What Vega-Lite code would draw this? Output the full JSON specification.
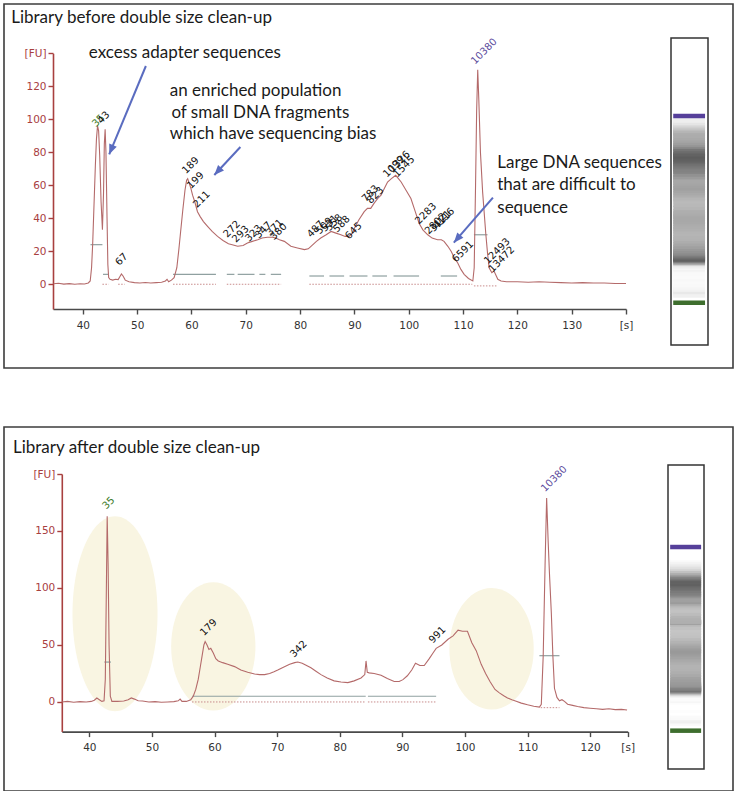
{
"$schema": "https://vega.github.io/schema/vega-lite/v6.json",
"background": "white",
"padding": {"left": 3, "top": 3, "right": 0, "bottom": 0},
"spacing": 57,
"config": {"view": {"stroke": "#3c3c3c", "strokeWidth": 1.6}, "font": "DejaVu Sans"},
"datasets": {
"topTrace": [
{"t":34.6,"fu":0.3},{"t":35.5,"fu":0.6},{"t":36.5,"fu":0.1},{"t":37.5,"fu":0.4},{"t":38.5,"fu":0},{"t":39.5,"fu":0.3},{"t":40.3,"fu":0.2},{"t":41,"fu":0.8},{"t":41.35,"fu":2},{"t":41.6,"fu":10},{"t":41.8,"fu":24},{"t":42.05,"fu":48},{"t":42.3,"fu":72},{"t":42.5,"fu":88},{"t":42.7,"fu":96},{"t":42.9,"fu":93},{"t":43.1,"fu":78},{"t":43.35,"fu":50},{"t":43.6,"fu":33},{"t":43.8,"fu":55},{"t":43.95,"fu":85},{"t":44.1,"fu":94},{"t":44.25,"fu":80},{"t":44.45,"fu":40},{"t":44.6,"fu":12},{"t":44.75,"fu":4},{"t":45,"fu":3},{"t":45.5,"fu":2.5},{"t":46,"fu":3},{"t":46.5,"fu":2.8},{"t":46.8,"fu":4.5},{"t":47.1,"fu":6.2},{"t":47.4,"fu":5},{"t":47.8,"fu":2.5},{"t":48.5,"fu":1.5},{"t":49.5,"fu":1},{"t":50.5,"fu":0.8},{"t":51.5,"fu":1.1},{"t":52.5,"fu":0.8},{"t":53.5,"fu":1},{"t":54.5,"fu":1.2},{"t":55.2,"fu":2},{"t":55.5,"fu":3},{"t":55.8,"fu":1.5},{"t":56.3,"fu":2.5},{"t":56.8,"fu":4},{"t":57.3,"fu":10},{"t":57.7,"fu":22},{"t":58,"fu":32},{"t":58.4,"fu":45},{"t":58.8,"fu":57},{"t":59.1,"fu":63},{"t":59.3,"fu":64},{"t":59.6,"fu":61},{"t":59.9,"fu":58},{"t":60.2,"fu":54},{"t":60.6,"fu":50},{"t":61.1,"fu":44},{"t":61.6,"fu":41},{"t":62.2,"fu":38},{"t":63,"fu":35},{"t":63.8,"fu":32},{"t":64.8,"fu":29},{"t":65.8,"fu":26.5},{"t":66.8,"fu":24.5},{"t":67.5,"fu":24},{"t":68.5,"fu":23},{"t":69.5,"fu":23.5},{"t":70.3,"fu":25},{"t":71.2,"fu":26},{"t":72.2,"fu":27},{"t":73,"fu":28},{"t":74,"fu":28.5},{"t":74.9,"fu":28.5},{"t":75.5,"fu":28},{"t":76.2,"fu":27},{"t":77.1,"fu":26},{"t":78.3,"fu":23},{"t":79.5,"fu":22},{"t":80.8,"fu":21},{"t":81.5,"fu":21.5},{"t":82,"fu":23},{"t":83,"fu":26},{"t":83.8,"fu":28},{"t":84.8,"fu":30},{"t":85.7,"fu":32},{"t":86.6,"fu":31},{"t":87.5,"fu":30},{"t":88.3,"fu":29},{"t":89,"fu":29},{"t":89.6,"fu":31},{"t":90,"fu":34},{"t":90.8,"fu":39},{"t":91.8,"fu":44},{"t":92.4,"fu":46},{"t":93,"fu":46},{"t":93.6,"fu":49},{"t":94.3,"fu":52},{"t":94.9,"fu":54},{"t":95.5,"fu":58},{"t":96.1,"fu":62},{"t":96.8,"fu":64},{"t":97.6,"fu":66},{"t":98.1,"fu":64},{"t":98.6,"fu":62},{"t":99.5,"fu":57},{"t":100.4,"fu":52},{"t":101.2,"fu":44},{"t":101.9,"fu":37},{"t":102.6,"fu":33},{"t":103.5,"fu":30},{"t":104.3,"fu":28},{"t":105.3,"fu":27},{"t":106,"fu":27},{"t":106.5,"fu":26},{"t":107.2,"fu":23},{"t":107.8,"fu":20},{"t":108.4,"fu":16},{"t":109,"fu":13},{"t":109.6,"fu":9},{"t":110.2,"fu":6},{"t":111,"fu":3.5},{"t":111.8,"fu":2},{"t":112.05,"fu":10},{"t":112.3,"fu":60},{"t":112.5,"fu":105},{"t":112.7,"fu":130},{"t":112.9,"fu":112},{"t":113.2,"fu":80},{"t":113.6,"fu":56},{"t":114.2,"fu":30},{"t":114.5,"fu":19},{"t":114.8,"fu":10},{"t":115.3,"fu":7},{"t":115.7,"fu":8},{"t":116.4,"fu":3},{"t":117,"fu":2},{"t":118,"fu":1.5},{"t":120,"fu":1.5},{"t":122,"fu":1.2},{"t":124,"fu":1.5},{"t":126,"fu":1.2},{"t":128,"fu":1},{"t":130,"fu":0.8},{"t":132,"fu":1},{"t":134,"fu":0.8},{"t":136,"fu":0.8},{"t":138,"fu":0.5},{"t":140,"fu":0.5}
],
"bottomTrace": [
{"t":35.6,"fu":0},{"t":36.5,"fu":0.5},{"t":37.5,"fu":-0.3},{"t":38.5,"fu":0.3},{"t":39.5,"fu":0},{"t":40.3,"fu":0.5},{"t":40.8,"fu":1.5},{"t":41.2,"fu":3.5},{"t":41.6,"fu":2},{"t":42,"fu":0.5},{"t":42.35,"fu":1},{"t":42.55,"fu":20},{"t":42.7,"fu":90},{"t":42.85,"fu":163},{"t":43,"fu":120},{"t":43.15,"fu":50},{"t":43.35,"fu":5},{"t":43.6,"fu":0.5},{"t":44.5,"fu":0.5},{"t":45.5,"fu":0.8},{"t":46.2,"fu":2},{"t":46.7,"fu":3.5},{"t":47.2,"fu":2.5},{"t":47.8,"fu":1},{"t":48.5,"fu":0.8},{"t":49.5,"fu":0},{"t":50.5,"fu":0.3},{"t":51.5,"fu":-0.3},{"t":52.5,"fu":0},{"t":53.5,"fu":0.3},{"t":54.2,"fu":1},{"t":54.5,"fu":2.5},{"t":54.8,"fu":0.5},{"t":55.5,"fu":0.5},{"t":56.2,"fu":2},{"t":56.6,"fu":5},{"t":57,"fu":11},{"t":57.4,"fu":20},{"t":57.7,"fu":30},{"t":58,"fu":40},{"t":58.3,"fu":50},{"t":58.5,"fu":53},{"t":58.8,"fu":50},{"t":59.1,"fu":46},{"t":59.4,"fu":47},{"t":59.8,"fu":43},{"t":60.2,"fu":38},{"t":60.6,"fu":36},{"t":61.3,"fu":34.5},{"t":62.1,"fu":33},{"t":63.2,"fu":31},{"t":64.2,"fu":28},{"t":65.3,"fu":26},{"t":66.4,"fu":24.5},{"t":67.2,"fu":24},{"t":68,"fu":24},{"t":68.8,"fu":25},{"t":69.5,"fu":26.5},{"t":70.1,"fu":28},{"t":71,"fu":30.5},{"t":72,"fu":33},{"t":72.8,"fu":34.5},{"t":73.3,"fu":35},{"t":74,"fu":34},{"t":74.7,"fu":32},{"t":75.4,"fu":30},{"t":76.2,"fu":27},{"t":77,"fu":24},{"t":78,"fu":21},{"t":79.1,"fu":18.5},{"t":80.2,"fu":17.5},{"t":81.3,"fu":17},{"t":82.3,"fu":18.5},{"t":83.4,"fu":21},{"t":84,"fu":24},{"t":84.2,"fu":36},{"t":84.4,"fu":26},{"t":84.7,"fu":25.5},{"t":85.5,"fu":25},{"t":86.6,"fu":23.5},{"t":87.6,"fu":20.5},{"t":88.7,"fu":18},{"t":89.5,"fu":18},{"t":90.1,"fu":19.6},{"t":90.8,"fu":23},{"t":91.5,"fu":28},{"t":92.1,"fu":34},{"t":92.8,"fu":32},{"t":93.5,"fu":32},{"t":94.3,"fu":38},{"t":94.9,"fu":43},{"t":95.4,"fu":47},{"t":96.3,"fu":50},{"t":97.3,"fu":55},{"t":98.1,"fu":58},{"t":98.9,"fu":63},{"t":99.6,"fu":62},{"t":100.4,"fu":62},{"t":101.1,"fu":52},{"t":101.8,"fu":45},{"t":102.6,"fu":33},{"t":103.3,"fu":25},{"t":104,"fu":18},{"t":104.8,"fu":11},{"t":105.5,"fu":8},{"t":106.2,"fu":5.5},{"t":106.8,"fu":3.5},{"t":107.5,"fu":2},{"t":108.3,"fu":0.5},{"t":109,"fu":-1},{"t":110,"fu":-2.5},{"t":111,"fu":-3.8},{"t":111.9,"fu":-4.5},{"t":112.2,"fu":-2},{"t":112.5,"fu":40},{"t":112.8,"fu":120},{"t":113.05,"fu":179},{"t":113.3,"fu":140},{"t":113.5,"fu":113},{"t":113.8,"fu":78},{"t":114.05,"fu":40},{"t":114.3,"fu":12},{"t":114.7,"fu":4},{"t":115.1,"fu":1},{"t":115.5,"fu":2},{"t":115.9,"fu":0.5},{"t":116.4,"fu":-2},{"t":117.2,"fu":-3},{"t":118,"fu":-4},{"t":119,"fu":-5},{"t":120,"fu":-5.5},{"t":121,"fu":-6},{"t":122,"fu":-6.5},{"t":123,"fu":-6},{"t":124,"fu":-6.7},{"t":125,"fu":-6.5},{"t":125.9,"fu":-7}
],
"topPeaks": [
{"t":42.4,"fu":95,"label":"35","kind":"lower marker"},{"t":43.4,"fu":97,"label":"43","kind":"peak"},{"t":46.7,"fu":11,"label":"67","kind":"peak"},{"t":59.0,"fu":66.7,"label":"189","kind":"peak"},{"t":59.9,"fu":57.6,"label":"199","kind":"peak"},{"t":61.0,"fu":46,"label":"211","kind":"peak"},{"t":66.6,"fu":28,"label":"272","kind":"peak"},{"t":68.2,"fu":25,"label":"293","kind":"peak"},{"t":70.6,"fu":25.5,"label":"323","kind":"peak"},{"t":72.4,"fu":27.5,"label":"347","kind":"peak"},{"t":74.5,"fu":29,"label":"371","kind":"peak"},{"t":75.2,"fu":26.5,"label":"380","kind":"peak"},{"t":82.0,"fu":28,"label":"487","kind":"peak"},{"t":83.6,"fu":30,"label":"509","kind":"peak"},{"t":84.6,"fu":31.5,"label":"531","kind":"peak"},{"t":85.4,"fu":32,"label":"558","kind":"peak"},{"t":86.8,"fu":31,"label":"588","kind":"peak"},{"t":89.0,"fu":27,"label":"645","kind":"peak"},{"t":92.1,"fu":49.5,"label":"783","kind":"peak"},{"t":93.0,"fu":48.5,"label":"823","kind":"peak"},{"t":96.0,"fu":64.6,"label":"1099","kind":"peak"},{"t":97.0,"fu":67.6,"label":"1326","kind":"peak"},{"t":97.9,"fu":64.6,"label":"1545","kind":"peak"},{"t":101.9,"fu":36,"label":"2283","kind":"peak"},{"t":103.7,"fu":30,"label":"2802","kind":"peak"},{"t":104.6,"fu":31.5,"label":"3121","kind":"peak"},{"t":105.2,"fu":33,"label":"4116","kind":"peak"},{"t":108.7,"fu":13,"label":"6591","kind":"peak"},{"t":112.2,"fu":133,"label":"10380","kind":"upper marker"},{"t":114.6,"fu":12,"label":"12493","kind":"peak"},{"t":115.4,"fu":7,"label":"13472","kind":"peak"}
],
"bottomPeaks": [
{"t":42.7,"fu":168.7,"label":"35","kind":"lower marker"},{"t":58.3,"fu":57.6,"label":"179","kind":"peak"},{"t":72.7,"fu":38.6,"label":"342","kind":"peak"},{"t":94.85,"fu":51,"label":"991","kind":"peak"},{"t":112.8,"fu":184,"label":"10380","kind":"upper marker"}
],
"topNotes": [
{"t":26.8,"fu":158.5,"text":"Library before double size clean-up"},
{"t":41.1,"fu":137.2,"text":"excess adapter sequences"},{"t":56.0,"fu":114.1,"text":"an enriched population"},{"t":56.3,"fu":101.0,"text":"of small DNA fragments"},{"t":56.0,"fu":87.9,"text":"which have sequencing bias"},{"t":116.3,"fu":70.3,"text":"Large DNA sequences"},{"t":116.3,"fu":57.2,"text":"that are difficult to"},{"t":116.3,"fu":43.4,"text":"sequence"}
],
"bottomNotes": [
{"t":27.8,"fu":218.4,"text":"Library after double size clean-up"}
],
"topArrows": [
{"t":44.85,"fu":78.8,"t0":51.6,"fu0":132.3,"heading":202.6},{"t":64.2,"fu":66.2,"t0":69.0,"fu0":83.2,"heading":222.9},{"t":108.3,"fu":25.2,"t0":115.5,"fu0":52.5,"heading":220.9}
],
"topGuides": [{"t":60.4},{"t":95.1}],
"bottomGuides": [{"t":60.6},{"t":95.5}],
"topDrops": [
{"t":41.35,"top":2},{"t":43.6,"top":33},{"t":44.75,"top":4},{"t":46.5,"top":3},{"t":47.7,"top":4},{"t":56.6,"top":4},{"t":61.1,"top":44},{"t":64.5,"top":30},{"t":66.5,"top":25},{"t":67.9,"top":24},{"t":68.5,"top":23},{"t":69.6,"top":24},{"t":71.6,"top":26.5},{"t":72.5,"top":27.5},{"t":73.6,"top":28.3},{"t":74.6,"top":28.5},{"t":75.5,"top":28},{"t":76.5,"top":27},{"t":81.7,"top":21.5},{"t":82.6,"top":24.5},{"t":84.4,"top":29},{"t":85.4,"top":31.5},{"t":86,"top":32},{"t":86.9,"top":30.5},{"t":88.1,"top":29},{"t":89.1,"top":29},{"t":89.7,"top":31},{"t":92.4,"top":46},{"t":93.3,"top":47.5},{"t":96,"top":62},{"t":96.7,"top":64},{"t":97.9,"top":65},{"t":101.9,"top":37},{"t":103.7,"top":29.5},{"t":104.3,"top":28},{"t":105.2,"top":27},{"t":105.9,"top":27},{"t":108.9,"top":13.5},{"t":110.5,"top":5},{"t":111.7,"top":2},{"t":115.7,"top":8},{"t":116.3,"top":3}
],
"bottomDrops": [
{"t":42.4,"top":0.5},{"t":43.45,"top":1},{"t":56.4,"top":3.5},{"t":68,"top":24},{"t":84.15,"top":33},{"t":84.5,"top":26},{"t":95.4,"top":47},{"t":115.1,"top":1}
],
"topSegs": [
{"t":41.4,"t2":43.6,"fu":24,"kind":"region"},{"t":43.7,"t2":44.8,"fu":6,"kind":"region"},{"t":56.6,"t2":64.5,"fu":6,"kind":"region"},{"t":66.5,"t2":67.9,"fu":6,"kind":"region"},{"t":68.5,"t2":71.6,"fu":6,"kind":"region"},{"t":72.5,"t2":73.6,"fu":6,"kind":"region"},{"t":74.6,"t2":76.5,"fu":6,"kind":"region"},{"t":81.7,"t2":84.4,"fu":5,"kind":"region"},{"t":85.4,"t2":88.1,"fu":5,"kind":"region"},{"t":89.1,"t2":92.4,"fu":5,"kind":"region"},{"t":93.3,"t2":96,"fu":5,"kind":"region"},{"t":97.2,"t2":101.9,"fu":5,"kind":"region"},{"t":105.9,"t2":108.9,"fu":5,"kind":"region"},{"t":112,"t2":114.5,"fu":30,"kind":"region"},
{"t":43.6,"t2":44.75,"fu":0,"kind":"baseline"},{"t":46.5,"t2":47.7,"fu":0,"kind":"baseline"},{"t":56.6,"t2":64.5,"fu":0,"kind":"baseline"},{"t":66.5,"t2":76.5,"fu":0,"kind":"baseline"},{"t":81.7,"t2":111.7,"fu":0,"kind":"baseline"},{"t":112,"t2":116.3,"fu":-1,"kind":"baseline"}
],
"bottomSegs": [
{"t":42.4,"t2":43.45,"fu":35,"kind":"region"},{"t":56.4,"t2":84.15,"fu":5,"kind":"region"},{"t":84.5,"t2":95.4,"fu":5,"kind":"region"},{"t":111.9,"t2":115.1,"fu":40.6,"kind":"region"},
{"t":56.4,"t2":84.15,"fu":0,"kind":"baseline"},{"t":84.5,"t2":95.4,"fu":0,"kind":"baseline"},{"t":112.1,"t2":115.1,"fu":-5,"kind":"baseline"}
],
"bottomRegions": [
{"t":44.1,"fu":77.4,"region":"adapter"},{"t":59.8,"fu":48.7,"region":"small"},{"t":104.25,"fu":46.7,"region":"large"}
],
"topLadder": [{"t":42.8,"marker":"lower"},{"t":112.7,"marker":"upper"}],
"bottomLadder": [{"t":42.85,"marker":"lower"},{"t":113.05,"marker":"upper"}]
},
"vconcat": [
{
"width": 729, "height": 364,
"layer": [
{
"encoding": {
"x": {"field": "t", "type": "quantitative", "scale": {"domain": [34.5, 140], "range": [49, 622], "nice": false, "zero": false},
 "axis": {"values": [40,50,60,70,80,90,100,110,120,130,140], "labelExpr": "datum.value == 140 ? '[s]' : datum.label", "title": null, "offset": -59, "grid": false, "labelFlush": false, "labelOverlap": false, "domainColor": "#4a4a4a", "domainWidth": 1.6, "tickColor": "#4a4a4a", "tickWidth": 1.4, "tickSize": 5, "labelColor": "#333333", "labelFont": "DejaVu Sans", "labelFontSize": 10.5, "labelPadding": 6}},
"y": {"field": "fu", "type": "quantitative", "scale": {"domain": [-15, 140], "range": [305, 49.3], "nice": false, "zero": false},
 "axis": {"values": [0,20,40,60,80,100,120,140], "labelExpr": "datum.value == 140 ? '[FU]' : datum.label", "title": null, "offset": -49, "grid": false, "labelFlush": false, "labelOverlap": false, "domainColor": "#a8403f", "domainWidth": 1.6, "tickColor": "#a8403f", "tickWidth": 1.4, "tickSize": 5, "labelColor": "#a8403f", "labelFont": "DejaVu Sans", "labelFontSize": 10.5, "labelPadding": 2}}
},
"layer": [
{"data": {"name": "topGuides"}, "mark": {"type": "rule", "color": "#9a9aae", "strokeDash": [1, 2], "strokeWidth": 1}, "encoding": {"y": {"datum": -15}, "y2": {"datum": 140}}},
{"data": {"name": "topDrops"}, "mark": {"type": "rule", "color": "#c98c8c", "strokeDash": [1.5, 1.5], "strokeWidth": 1}, "encoding": {"y": {"datum": 0}, "y2": {"field": "top"}}},
{"data": {"name": "topSegs"}, "transform": [{"filter": "datum.kind == 'region'"}], "mark": {"type": "rule", "color": "#8fa0a0", "strokeWidth": 1.2}, "encoding": {"x2": {"field": "t2"}}},
{"data": {"name": "topSegs"}, "transform": [{"filter": "datum.kind == 'baseline'"}], "mark": {"type": "rule", "color": "#c98c8c", "strokeDash": [1.5, 1.5], "strokeWidth": 1}, "encoding": {"x2": {"field": "t2"}}},
{"data": {"name": "topTrace"}, "mark": {"type": "line", "color": "#b46a6a", "strokeWidth": 1.1}, "encoding": {}},
{"data": {"name": "topPeaks"}, "mark": {"type": "text", "angle": 315, "align": "left", "baseline": "alphabetic", "font": "DejaVu Sans", "fontSize": 10},
 "encoding": {"text": {"field": "label"}, "color": {"field": "kind", "type": "nominal", "scale": {"domain": ["peak", "lower marker", "upper marker"], "range": ["#111111", "#3d7a28", "#5b4a9c"]}, "legend": null}}},
{"data": {"name": "topNotes"}, "mark": {"type": "text", "align": "left", "baseline": "alphabetic", "font": "Lato", "fontSize": 17, "color": "#1a1a1a"}, "encoding": {"text": {"field": "text"}}},
{"data": {"name": "topArrows"}, "mark": {"type": "rule", "color": "#5a6cc0", "strokeWidth": 2}, "encoding": {"x2": {"field": "t0"}, "y2": {"field": "fu0"}}},
{"data": {"name": "topArrows"}, "mark": {"type": "point", "shape": "M 0 0 L 0.45 1.1 L -0.45 1.1 Z", "filled": true, "size": 324, "color": "#5a6cc0", "opacity": 1},
 "encoding": {"angle": {"field": "heading", "type": "quantitative", "scale": null}}}
]
},
{
"encoding": {
"y": {"field": "t", "type": "quantitative", "scale": {"domain": [27, 141.9], "range": [341, 34], "nice": false, "zero": false}, "axis": null},
"x": {"datum": 0.06, "type": "quantitative", "scale": {"domain": [0, 1], "range": [667, 704], "nice": false, "zero": false}, "axis": null},
"x2": {"datum": 0.92}
},
"layer": [
{"data": {"name": "topTrace"}, "transform": [{"filter": "datum.t > 45.3 && datum.t < 111.8"}], "mark": {"type": "rule", "strokeWidth": 4.5},
 "encoding": {"color": {"field": "fu", "type": "quantitative", "scale": {"type": "pow", "exponent": 0.8, "domain": [0, 70], "range": ["#ffffff", "#555555"], "clamp": true}, "legend": null}}},
{"data": {"name": "topLadder"}, "transform": [{"filter": "datum.marker == 'lower'"}], "mark": {"type": "rule", "strokeWidth": 4.5, "color": "#3e6e2e"}, "encoding": {}},
{"data": {"name": "topLadder"}, "transform": [{"filter": "datum.marker == 'upper'"}], "mark": {"type": "rule", "strokeWidth": 4.5, "color": "#56409a"}, "encoding": {}},
{"data": {"name": "topLadder"}, "transform": [{"filter": "datum.marker == 'upper'"}], "mark": {"type": "rect", "filled": false, "stroke": "#333333", "strokeWidth": 1.5}, "encoding": {"x": {"datum": 0}, "x2": {"datum": 1}, "y": {"datum": 27}, "y2": {"datum": 141.9}}}
]
}
],
"resolve": {"scale": {"x": "independent", "y": "independent", "color": "independent"}, "axis": {"x": "independent", "y": "independent"}}
},
{
"width": 729, "height": 364,
"layer": [
{
"encoding": {
"x": {"field": "t", "type": "quantitative", "scale": {"domain": [35.6, 126], "range": [57.8, 623.7], "nice": false, "zero": false},
 "axis": {"values": [40,50,60,70,80,90,100,110,120,126], "labelExpr": "datum.value == 126 ? '[s]' : datum.label", "title": null, "offset": -59.4, "grid": false, "labelFlush": false, "labelOverlap": false, "domainColor": "#4a4a4a", "domainWidth": 1.6, "tickColor": "#4a4a4a", "tickWidth": 1.4, "tickSize": 5, "labelColor": "#333333", "labelFont": "DejaVu Sans", "labelFontSize": 10.5, "labelPadding": 6}},
"y": {"field": "fu", "type": "quantitative", "scale": {"domain": [-26, 200], "range": [304.6, 47], "nice": false, "zero": false},
 "axis": {"values": [0,50,100,150,200], "labelExpr": "datum.value == 200 ? '[FU]' : datum.label", "title": null, "offset": -57.8, "grid": false, "labelFlush": false, "labelOverlap": false, "domainColor": "#a8403f", "domainWidth": 1.6, "tickColor": "#a8403f", "tickWidth": 1.4, "tickSize": 5, "labelColor": "#a8403f", "labelFont": "DejaVu Sans", "labelFontSize": 10.5, "labelPadding": 2}}
},
"layer": [
{"data": {"name": "bottomRegions"}, "transform": [{"filter": "datum.region == 'adapter'"}], "mark": {"type": "point", "filled": true, "opacity": 1, "fill": "#f9f5e2", "stroke": "transparent", "strokeWidth": 0, "size": 38025, "shape": "M 0 -1 C 0.2408 -1 0.436 -0.5523 0.436 0 C 0.436 0.5523 0.2408 1 0 1 C -0.2408 1 -0.436 0.5523 -0.436 0 C -0.436 -0.5523 -0.2408 -1 0 -1 Z"}, "encoding": {}},
{"data": {"name": "bottomRegions"}, "transform": [{"filter": "datum.region == 'small'"}], "mark": {"type": "point", "filled": true, "opacity": 1, "fill": "#f9f5e2", "stroke": "transparent", "strokeWidth": 0, "size": 16461, "shape": "M 0 -1 C 0.3629 -1 0.657 -0.5523 0.657 0 C 0.657 0.5523 0.3629 1 0 1 C -0.3629 1 -0.657 0.5523 -0.657 0 C -0.657 -0.5523 -0.3629 -1 0 -1 Z"}, "encoding": {}},
{"data": {"name": "bottomRegions"}, "transform": [{"filter": "datum.region == 'large'"}], "mark": {"type": "point", "filled": true, "opacity": 1, "fill": "#f9f5e2", "stroke": "transparent", "strokeWidth": 0, "size": 14811, "shape": "M 0 -1 C 0.3827 -1 0.693 -0.5523 0.693 0 C 0.693 0.5523 0.3827 1 0 1 C -0.3827 1 -0.693 0.5523 -0.693 0 C -0.693 -0.5523 -0.3827 -1 0 -1 Z"}, "encoding": {}},
{"data": {"name": "bottomGuides"}, "mark": {"type": "rule", "color": "#9a9aae", "strokeDash": [1, 2], "strokeWidth": 1}, "encoding": {"y": {"datum": -26}, "y2": {"datum": 200}}},
{"data": {"name": "bottomDrops"}, "mark": {"type": "rule", "color": "#c98c8c", "strokeDash": [1.5, 1.5], "strokeWidth": 1}, "encoding": {"y": {"datum": 0}, "y2": {"field": "top"}}},
{"data": {"name": "bottomSegs"}, "transform": [{"filter": "datum.kind == 'region'"}], "mark": {"type": "rule", "color": "#8fa0a0", "strokeWidth": 1.2}, "encoding": {"x2": {"field": "t2"}}},
{"data": {"name": "bottomSegs"}, "transform": [{"filter": "datum.kind == 'baseline'"}], "mark": {"type": "rule", "color": "#c98c8c", "strokeDash": [1.5, 1.5], "strokeWidth": 1}, "encoding": {"x2": {"field": "t2"}}},
{"data": {"name": "bottomTrace"}, "mark": {"type": "line", "color": "#b46a6a", "strokeWidth": 1.1}, "encoding": {}},
{"data": {"name": "bottomPeaks"}, "mark": {"type": "text", "angle": 315, "align": "left", "baseline": "alphabetic", "font": "DejaVu Sans", "fontSize": 10},
 "encoding": {"text": {"field": "label"}, "color": {"field": "kind", "type": "nominal", "scale": {"domain": ["peak", "lower marker", "upper marker"], "range": ["#111111", "#3d7a28", "#5b4a9c"]}, "legend": null}}},
{"data": {"name": "bottomNotes"}, "mark": {"type": "text", "align": "left", "baseline": "alphabetic", "font": "Lato", "fontSize": 17, "color": "#1a1a1a"}, "encoding": {"text": {"field": "text"}}}
]
},
{
"encoding": {
"y": {"field": "t", "type": "quantitative", "scale": {"domain": [28.2, 144.4], "range": [342, 38], "nice": false, "zero": false}, "axis": null},
"x": {"datum": 0.06, "type": "quantitative", "scale": {"domain": [0, 1], "range": [664, 700], "nice": false, "zero": false}, "axis": null},
"x2": {"datum": 0.92}
},
"layer": [
{"data": {"name": "bottomTrace"}, "transform": [{"filter": "datum.t > 45 && datum.t < 112"}], "mark": {"type": "rule", "strokeWidth": 4.5},
 "encoding": {"color": {"field": "fu", "type": "quantitative", "scale": {"type": "pow", "exponent": 0.8, "domain": [0, 70], "range": ["#ffffff", "#555555"], "clamp": true}, "legend": null}}},
{"data": {"name": "bottomLadder"}, "transform": [{"filter": "datum.marker == 'lower'"}], "mark": {"type": "rule", "strokeWidth": 4.5, "color": "#3e6e2e"}, "encoding": {}},
{"data": {"name": "bottomLadder"}, "transform": [{"filter": "datum.marker == 'upper'"}], "mark": {"type": "rule", "strokeWidth": 4.5, "color": "#56409a"}, "encoding": {}},
{"data": {"name": "bottomLadder"}, "transform": [{"filter": "datum.marker == 'upper'"}], "mark": {"type": "rect", "filled": false, "stroke": "#333333", "strokeWidth": 1.5}, "encoding": {"x": {"datum": 0}, "x2": {"datum": 1}, "y": {"datum": 28.2}, "y2": {"datum": 144.4}}}
]
}
],
"resolve": {"scale": {"x": "independent", "y": "independent", "color": "independent"}, "axis": {"x": "independent", "y": "independent"}}
}
]
}
